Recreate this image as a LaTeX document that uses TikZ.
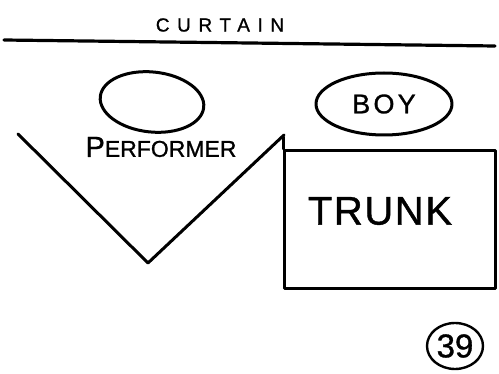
\documentclass[tikz,border=0pt]{standalone}
\usepackage{fontspec}
\setmainfont{Liberation Sans}
\newfontfamily\hand{Liberation Sans}[FakeBold=1.0]
\usetikzlibrary{shapes.geometric}
\begin{document}
\begin{tikzpicture}[x=1pt,y=-1pt,
  ink/.style={line width=3pt,line cap=round,line join=round,draw=black},
  label/.style={inner sep=0pt,text=black}]
\useasboundingbox (0,0) rectangle (499,374);
% curtain
\coordinate (cl) at (4,40);
\coordinate (cr) at (495,46);
\draw[ink,line width=3.2pt] (cl) -- (cr);
\node[label,font={\hand\addfontfeatures{LetterSpace=40}\fontsize{19}{19}\selectfont}] (curtain) at (220,25) {CURTAIN};
% performer
\node[ink,ellipse,minimum width=104pt,minimum height=60pt,rotate=-6] (perf) at (152,102) {};
\node[label,font=\hand\fontsize{23}{23}\selectfont] (perflbl) at (161,147) {{\fontsize{29}{29}\selectfont P}ERFORMER};
% V
\coordinate (vl) at (18,134);
\coordinate (vb) at (148,263);
\coordinate (vr) at (284,135);
\draw[ink] (vl) -- (vb) -- (vr);
% boy
\node[ink,ellipse,minimum width=136pt,minimum height=62pt] (boy) at (384,104) {};
\node[label,font={\hand\addfontfeatures{LetterSpace=12}\fontsize{27}{27}\selectfont}] at (boy) {BOY};
% trunk
\node[ink,rectangle,minimum width=211pt,minimum height=138pt,anchor=north west] (trunk) at (283,149) {};
\coordinate (tk) at (283,137);
\draw[ink] (tk) -- (trunk.north west);
\node[label,font={\hand\addfontfeatures{LetterSpace=4}\fontsize{40}{40}\selectfont}] at (380,211) {TRUNK};
% page number
\node[ink,ellipse,line width=2.4pt,minimum width=56pt,minimum height=46pt] (pg) at (455,346) {};
\node[label,font=\hand\fontsize{33}{33}\selectfont] at (pg) {39};
\end{tikzpicture}
\end{document}
